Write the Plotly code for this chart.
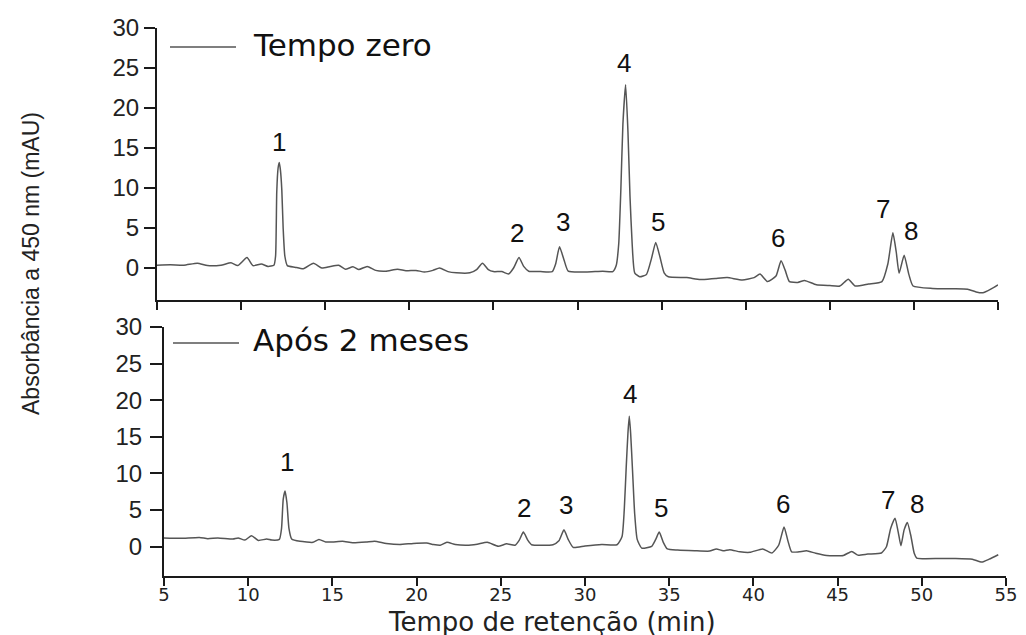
import plotly.graph_objects as go

# ---------------- data ----------------
series_names = ["Tempo zero", "Após 2 meses"]

top_t = [5.0, 5.8, 6.6, 7.4, 8.0, 8.8, 9.4, 9.8, 10.35, 10.7, 11.2, 11.6, 11.95, 12.05, 12.12, 12.2, 12.27,
         12.34, 12.42, 12.5, 12.6, 12.75, 13.2, 13.7, 14.3, 14.8, 15.3, 15.8, 16.2, 16.65, 17.0, 17.5, 18.0,
         18.6, 19.3, 19.8, 20.4, 20.9, 21.4, 21.8, 22.3, 22.8, 23.6, 24.0, 24.35, 24.7, 25.0, 25.5, 25.9,
         26.2, 26.52, 26.8, 27.1, 27.8, 28.5, 28.7, 28.93, 29.2, 29.45, 30.5, 31.5, 32.1, 32.3, 32.45,
         32.58, 32.7, 32.86, 33.0, 33.12, 33.25, 33.4, 33.7, 34.1, 34.4, 34.65, 34.9, 35.15, 35.4, 36.5,
         37.3, 38.2, 38.9, 39.8, 40.5, 40.85, 41.3, 41.8, 42.1, 42.35, 42.6, 43.1, 43.5, 44.2, 45.0, 45.6,
         46.1, 46.5, 47.3, 48.1, 48.45, 48.75, 48.95, 49.12, 49.42, 49.7, 49.95, 51.1, 52.3, 53.2, 53.7,
         54.1, 54.6, 55.0]
top_v = [0.35, 0.4, 0.35, 0.6, 0.3, 0.35, 0.65, 0.3, 1.3, 0.3, 0.5, 0.2, 0.35, 1.5, 9.5, 12.5, 13.2,
         12.2, 9.8, 5.0, 1.5, 0.3, 0.1, -0.1, 0.6, 0.0, 0.2, 0.35, -0.15, 0.15, -0.2, 0.2, -0.3,
         -0.4, -0.15, -0.35, -0.3, -0.5, -0.3, 0.0, -0.45, -0.6, -0.6, -0.2, 0.6, -0.2, -0.45, -0.45, -0.75,
         0.0, 1.3, 0.2, -0.4, -0.45, -0.45, 0.5, 2.65, 1.0, -0.4, -0.5, -0.4, -0.45, 0.3, 3.0,
         10.0, 18.0, 22.9, 17.0, 9.0, 3.0, -0.6, -1.1, -0.8, 1.2, 3.2, 1.4, -0.6, -1.1, -1.2,
         -1.45, -1.3, -1.2, -1.5, -1.2, -0.75, -1.7, -1.0, 0.9, -0.3, -1.7, -1.8, -1.55, -2.1, -2.2, -2.25,
         -1.4, -2.25, -2.0, -1.7, 0.5, 4.4, 2.0, -0.65, 1.6, -0.8, -2.25, -2.55, -2.6, -2.65, -3.0,
         -3.1, -2.6, -2.1]

bot_t = [5.0, 6.0, 7.1, 7.6, 8.2, 9.1, 9.4, 9.8, 10.2, 10.6, 11.1, 11.4, 11.85, 11.98, 12.08, 12.19,
         12.3, 12.42, 12.58, 13.08, 13.85, 14.2, 14.6, 15.0, 15.6, 16.2, 17.0, 17.5, 18.2, 19.0, 19.8,
         20.6, 21.0, 21.4, 21.8, 22.3, 23.0, 23.6, 24.2, 24.85, 25.35, 25.84, 26.1, 26.34, 26.6, 26.83,
         28.1, 28.45, 28.75, 29.0, 29.3, 30.0, 31.0, 31.9, 32.2, 32.33, 32.45, 32.55, 32.63, 32.71, 32.82,
         32.95, 33.1, 33.37, 33.96, 34.2, 34.41, 34.65, 34.89, 35.5, 36.5, 37.4, 37.8, 38.2, 38.6, 39.2,
         39.8, 40.55, 41.1, 41.5, 41.82, 42.05, 42.27, 42.7, 43.16, 43.7, 44.35, 45.34, 45.84, 46.2, 46.8,
         47.6, 47.9, 48.15, 48.41, 48.6, 48.76, 48.95, 49.14, 49.35, 49.55, 49.7, 51.08, 52.0, 53.0,
         53.56, 54.0, 54.54]
bot_v = [1.2, 1.15, 1.27, 1.1, 1.2, 1.05, 1.2, 0.9, 1.5, 0.86, 1.05, 0.9, 1.0, 2.5, 6.5, 7.6,
         6.0, 2.5, 1.05, 0.73, 0.6, 1.0, 0.65, 0.64, 0.75, 0.55, 0.64, 0.75, 0.45, 0.3, 0.45,
         0.5, 0.3, 0.2, 0.6, 0.3, 0.2, 0.35, 0.6, 0.05, 0.4, 0.2, 0.9, 2.0, 0.9, 0.27,
         0.27, 0.8, 2.3, 1.0, -0.1, 0.1, 0.3, 0.27, 1.4, 5.0, 11.0, 15.5, 17.8, 15.5, 10.5,
         4.5, 1.0, -0.2, 0.05, 1.0, 2.0, 0.6, -0.3, -0.45, -0.55, -0.6, -0.3, -0.55, -0.4, -0.7,
         -0.77, -0.3, -0.86, 0.2, 2.7, 0.8, -0.7, -0.7, -0.55, -0.9, -1.2, -1.2, -0.64, -1.15, -1.0,
         -0.86, 0.0, 2.5, 3.9, 2.0, 0.14, 2.3, 3.3, 1.5, -0.9, -1.55, -1.6, -1.6, -1.7,
         -2.1, -1.7, -1.1]

peak_labels = ["1", "2", "3", "4", "5", "6", "7", "8"]
top_lab_t = [12.27, 26.4, 29.14, 32.77, 34.8, 41.9, 48.16, 49.83]
top_lab_v = [15.75, 4.4, 5.75, 25.6, 5.75, 3.75, 7.4, 4.6]
bot_lab_t = [12.3, 26.38, 28.87, 32.67, 34.51, 41.76, 47.99, 49.7]
bot_lab_v = [11.5, 5.3, 5.7, 20.9, 5.3, 5.9, 6.4, 5.9]

x_ticks = [5, 10, 15, 20, 25, 30, 35, 40, 45, 50, 55]
y_ticks = [0, 5, 10, 15, 20, 25, 30]

# ---------------- figure ----------------
# the page body has an 8px margin, so the figure is drawn 8px in from the window edge
OFF = 8
W, H = 1026 - OFF, 635 - OFF


def px(x):
    return (x - OFF) / W


def py(y):
    return 1 - (y - OFF) / H


LINE = "#555555"
AX = "#1a1a1a"
ARIAL = "Liberation Sans"
WIDE_FONT = "DejaVu Sans"
DIGIT_FONT = dict(family=ARIAL, size=26, color="#111")

fig = go.Figure()
fig.add_trace(go.Scatter(x=top_t, y=top_v, mode="lines", name=series_names[0],
                         line=dict(color=LINE, width=1.5, shape="spline", smoothing=0.5),
                         xaxis="x", yaxis="y", showlegend=False))
fig.add_trace(go.Scatter(x=bot_t, y=bot_v, mode="lines", name=series_names[1],
                         line=dict(color=LINE, width=1.5, shape="spline", smoothing=0.5),
                         xaxis="x2", yaxis="y2", showlegend=False))

ann = []
for lab, t, v in zip(peak_labels, top_lab_t, top_lab_v):
    ann.append(dict(x=t, y=v, xref="x", yref="y", text=lab, showarrow=False, font=DIGIT_FONT,
                    xanchor="center", yanchor="middle"))
for lab, t, v in zip(peak_labels, bot_lab_t, bot_lab_v):
    ann.append(dict(x=t, y=v, xref="x2", yref="y2", text=lab, showarrow=False, font=DIGIT_FONT,
                    xanchor="center", yanchor="middle"))

# legends (line sample + name) per panel
legend_pos = [(170, 236, 47, 251, 45), (173, 239, 343, 251, 340)]
shapes = []
for name, (lx0, lx1, ly, tx, ty) in zip(series_names, legend_pos):
    shapes.append(dict(type="line", xref="paper", yref="paper", x0=px(lx0), x1=px(lx1),
                       y0=py(ly), y1=py(ly), line=dict(color=LINE, width=1.5)))
    ann.append(dict(x=px(tx), y=py(ty), xref="paper", yref="paper", text=name, showarrow=False,
                    xanchor="left", yanchor="middle",
                    font=dict(family=WIDE_FONT, size=31, color="#111")))

# axis titles
ann.append(dict(x=px(31), y=py(264), xref="paper", yref="paper", text="Absorbância a 450 nm (mAU)",
                showarrow=False, textangle=-90, xanchor="center", yanchor="middle",
                font=dict(family=ARIAL, size=23, color="#222")))
ann.append(dict(x=px(552), y=py(622), xref="paper", yref="paper", text="Tempo de retenção (min)",
                showarrow=False, xanchor="center", yanchor="middle",
                font=dict(family=WIDE_FONT, size=26, color="#222")))

xcommon = dict(range=[5, 55], tickvals=x_ticks, showline=True, linecolor=AX, linewidth=2,
               ticks="outside", ticklen=8, tickwidth=2, tickcolor=AX, showgrid=False, zeroline=False,
               automargin=False)
ycommon = dict(range=[-4, 30], tickvals=y_ticks, showline=True, linecolor=AX, linewidth=2,
               ticks="outside", ticklen=11, tickwidth=2, tickcolor=AX, showgrid=False, zeroline=False,
               automargin=False, tickfont=dict(family=ARIAL, size=24, color="#222"))

fig.update_layout(
    template="none",
    width=W, height=H, autosize=False,
    margin=dict(l=0, r=0, t=0, b=0, pad=0),
    paper_bgcolor="white", plot_bgcolor="white",
    xaxis=dict(xcommon, domain=[px(157), px(998)], anchor="y", showticklabels=False),
    yaxis=dict(ycommon, domain=[py(300), py(28)], anchor="x", ticklabelstandoff=0),
    xaxis2=dict(xcommon, domain=[px(164), px(1006)], anchor="y2", showticklabels=True,
                ticklabelstandoff=-7, tickfont=dict(family=WIDE_FONT, size=18, color="#222")),
    yaxis2=dict(ycommon, domain=[py(576), py(327)], anchor="x2", ticklen=12, ticklabelstandoff=3),
    annotations=ann,
    shapes=shapes,
)

fig.write_html("out.html")
